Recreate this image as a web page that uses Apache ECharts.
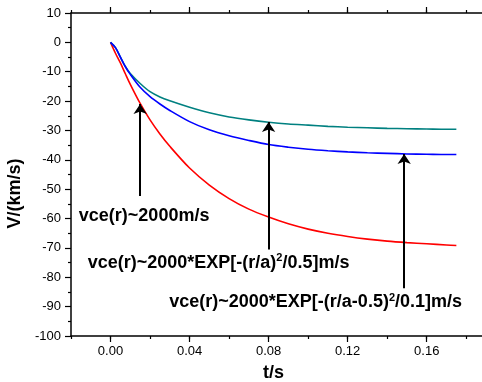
<!DOCTYPE html>
<html>
<head>
<meta charset="utf-8">
<script src="https://cdn.jsdelivr.net/npm/echarts@6/dist/echarts.min.js"></script>
<style>
html,body{margin:0;padding:0;background:#fff;}
#c{width:482px;height:382px;}
</style>
</head>
<body>
<div id="c"></div>
<script>
// time (s)
const tValues = [0, 0.0025, 0.005, 0.0075, 0.01, 0.015, 0.02, 0.025, 0.03, 0.04, 0.05, 0.06, 0.07, 0.08, 0.09, 0.10, 0.11, 0.12, 0.13, 0.14, 0.15, 0.16, 0.17, 0.175];
// V (km/s) for vce(r)~2000m/s
const redV = [0, -3.7, -7.0, -10.7, -14.3, -20.8, -26.4, -31.2, -35.4, -42.8, -48.6, -53.2, -56.8, -59.5, -61.8, -63.6, -65.0, -66.1, -67.0, -67.7, -68.2, -68.6, -69.0, -69.2];
// V (km/s) for vce(r)~2000*EXP[-(r/a)^2/0.5]
const tealV = [0, -1.8, -5.0, -8.2, -10.6, -14.0, -16.8, -18.6, -19.9, -22.1, -24.0, -25.4, -26.4, -27.2, -27.8, -28.2, -28.6, -28.9, -29.1, -29.3, -29.4, -29.5, -29.6, -29.6];
// V (km/s) for vce(r)~2000*EXP[-(r/a-0.5)^2/0.1]
const blueV = [0, -1.8, -5.0, -8.3, -10.9, -15.3, -18.5, -21.0, -23.2, -27.0, -29.8, -31.8, -33.4, -34.8, -35.7, -36.4, -36.9, -37.3, -37.6, -37.8, -38.0, -38.1, -38.2, -38.2];

// axis ticks
const xMajorTicks = [0, 0.04, 0.08, 0.12, 0.16];
// annotations: arrow x, arrow start y, arrow tip y
const arrowX = [0.015, 0.08, 0.1486];
const arrowFromY = [-52.3, -70.5, -83.7];
const arrowToY = [-21.0, -27.1, -38.0];
// annotation text centers
const labelX = [0.0170, 0.0547, 0.1038];
const labelY = [-59.0, -75.0, -88.6];
const labelText = [
  '{a|vce(r)~2000m/s}',
  '{a|vce(r)~2000*EXP[-(r/a)}{s|2}{a|/0.5]m/s}',
  '{a|vce(r)~2000*EXP[-(r/a-0.5)}{s|2}{a|/0.1]m/s}'
];

const FONT = '"Liberation Sans", Arial, sans-serif';
const pair = (xs, ys) => xs.map((x, i) => [x, ys[i]]);
const TICK = {color: '#000', width: 1.2};

const gridRect = {left: 71, top: 13, right: -4, bottom: 46, containLabel: false, outerBoundsMode: 'none'};
const baseX = {
  type: 'value', min: -0.02, max: 0.19, interval: 0.02,
  splitLine: {show: false}
};

const chart = echarts.init(document.getElementById('c'), null, {renderer: 'canvas'});
chart.setOption({
  animation: false,
  backgroundColor: '#fff',
  grid: [Object.assign({}, gridRect), Object.assign({}, gridRect)],
  xAxis: [
    // grid 0: bottom axis with labels and minor ticks
    Object.assign({}, baseX, {
      gridIndex: 0, position: 'bottom',
      name: 't/s', nameLocation: 'middle', nameGap: 28,
      nameTextStyle: {fontFamily: FONT, fontSize: 18, fontWeight: 'bold', color: '#000', padding: [0, 10, 0, 0]},
      axisLine: {show: true, onZero: false, lineStyle: {color: '#000', width: 1.5}},
      axisTick: {show: true, inside: false, length: 3, lineStyle: TICK},
      axisLabel: {
        show: true, margin: 9, fontFamily: FONT, fontSize: 13, color: '#000',
        formatter: v => { const k = Math.round(v * 100); return (k >= 0 && k % 4 === 0) ? v.toFixed(2) : ''; }
      }
    }),
    // grid 0: top axis with minor ticks
    Object.assign({}, baseX, {
      gridIndex: 0, position: 'top',
      axisLine: {show: true, onZero: false, lineStyle: {color: '#000', width: 1.5}},
      axisTick: {show: true, length: 3, lineStyle: TICK},
      axisLabel: {show: false}
    }),
    // grid 1: bottom major ticks
    Object.assign({}, baseX, {
      gridIndex: 1, position: 'bottom',
      axisLine: {show: false, onZero: false},
      axisTick: {show: true, length: 6, customValues: xMajorTicks, lineStyle: TICK},
      axisLabel: {show: false}
    }),
    // grid 1: top major ticks
    Object.assign({}, baseX, {
      gridIndex: 1, position: 'top',
      axisLine: {show: false, onZero: false},
      axisTick: {show: true, length: 6, customValues: xMajorTicks, lineStyle: TICK},
      axisLabel: {show: false}
    })
  ],
  yAxis: [
    {
      gridIndex: 0, type: 'value', min: -100, max: 10, interval: 10,
      name: 'V/(km/s)', nameLocation: 'middle', nameGap: 45, nameRotate: 90,
      nameTextStyle: {fontFamily: FONT, fontSize: 18, fontWeight: 'bold', color: '#000', padding: [0, 38, 0, 0]},
      splitLine: {show: false},
      axisLine: {show: true, onZero: false, lineStyle: {color: '#000', width: 1.5}},
      axisTick: {show: true, length: 6, lineStyle: TICK},
      minorTick: {show: true, splitNumber: 2, length: 3, lineStyle: TICK},
      axisLabel: {margin: 10, fontFamily: FONT, fontSize: 13, color: '#000'}
    },
    {
      gridIndex: 1, type: 'value', min: -100, max: 10, interval: 10, show: false,
      splitLine: {show: false}
    }
  ],
  series: [
    {
      type: 'line', name: 'vce(r)~2000m/s', xAxisIndex: 0, yAxisIndex: 0,
      data: pair(tValues, redV), showSymbol: false, smooth: 0.3,
      lineStyle: {color: '#ff0000', width: 1.6}, itemStyle: {color: '#ff0000'},
      markLine: {
        silent: true, symbol: ['none', 'arrow'], symbolSize: 10,
        lineStyle: {color: '#000', width: 2, type: 'solid'},
        itemStyle: {color: '#000'},
        label: {show: false},
        data: arrowX.map((x, i) => [{coord: [x, arrowFromY[i]]}, {coord: [x, arrowToY[i]]}])
      },
      markPoint: {
        silent: true, symbol: 'circle', symbolSize: 0,
        itemStyle: {color: 'rgba(0,0,0,0)'},
        label: {
          show: true, position: 'inside', color: '#000',
          rich: {
            a: {fontFamily: FONT, fontSize: 18, fontWeight: 'bold', color: '#000', lineHeight: 20},
            s: {fontFamily: FONT, fontSize: 11, fontWeight: 'bold', color: '#000', lineHeight: 12, verticalAlign: 'top'}
          }
        },
        data: labelX.map((x, i) => ({coord: [x, labelY[i]], label: {formatter: labelText[i]}}))
      }
    },
    {
      type: 'line', name: 'vce(r)~2000*EXP[-(r/a)^2/0.5]', xAxisIndex: 0, yAxisIndex: 0,
      data: pair(tValues, tealV), showSymbol: false, smooth: 0.3,
      lineStyle: {color: '#008080', width: 1.6}, itemStyle: {color: '#008080'}
    },
    {
      type: 'line', name: 'vce(r)~2000*EXP[-(r/a-0.5)^2/0.1]', xAxisIndex: 0, yAxisIndex: 0,
      data: pair(tValues, blueV), showSymbol: false, smooth: 0.3,
      lineStyle: {color: '#0000ff', width: 1.6}, itemStyle: {color: '#0000ff'}
    }
  ]
});
</script>
</body>
</html>
